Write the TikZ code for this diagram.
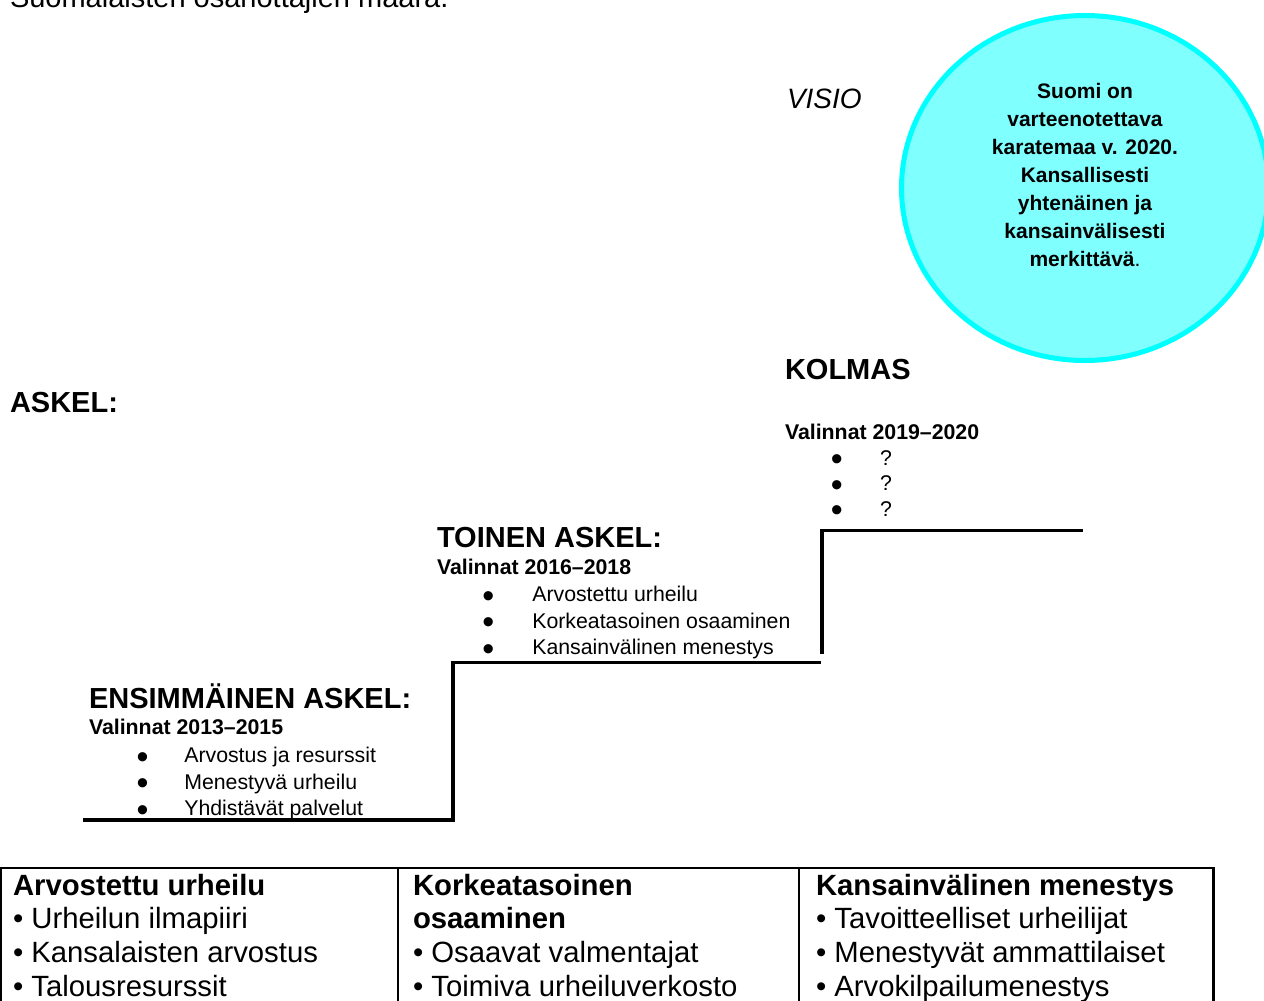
\documentclass[tikz,border=0pt]{standalone}
\usepackage{fontspec}
\setmainfont{Liberation Sans}
\usetikzlibrary{shapes.geometric}
\definecolor{visfill}{HTML}{80FFFF}
\definecolor{visline}{HTML}{00FFFF}
\begin{document}
\begin{tikzpicture}[x=1pt,y=-1pt,
  txt/.style={inner sep=0pt, outer sep=0pt, anchor=base west},
  bigbold/.style={txt, font=\fontsize{29}{34}\selectfont\bfseries},
  smallbold/.style={txt, font=\fontsize{21.3}{26}\selectfont\bfseries},
  item/.style={txt, font=\fontsize{21.3}{26}\selectfont},
  dot/.style={inner sep=0pt, outer sep=0pt, anchor=base, yshift=-5.8pt, font=\fontsize{34}{34}\selectfont},
  tabtxt/.style={txt, font=\fontsize{29.3}{33.7}\selectfont},
  stepline/.style={line width=3.2pt, black},
  tabline/.style={line width=2.4pt, black}]
\useasboundingbox (0,0) rectangle (1264,1001);

% heading
\node[txt, font=\fontsize{29}{34}\selectfont] (title) at (10,8) {Suomalaisten osanottajien määrä.};

% vision
\node[draw=visline, fill=visfill, line width=5pt, ellipse, minimum width=367pt, minimum height=345pt, inner sep=0pt] (vision) at (1085,188) {};
\node[inner sep=0pt, anchor=base, font=\fontsize{21}{28}\selectfont\bfseries] (vtext) at (1085,98.3)
  {\begin{tabular}[t]{@{}c@{}}Suomi on\\ varteenotettava\\ karatemaa v. 2020.\\ Kansallisesti\\ yhtenäinen ja\\ kansainvälisesti\\ merkittävä{\mdseries .}\end{tabular}};
\node[txt, font=\fontsize{28}{34}\selectfont\itshape] (visio) at (787,108.3) {VISIO};

% labels
\node[bigbold] (askel) at (10,412) {ASKEL:};
\node[bigbold] (kolmas) at (785,379) {KOLMAS};
\node[smallbold] (v3) at (785,439.5) {Valinnat 2019–2020};
\node[dot] (b31) at (836.7,465) {•};
\node[dot] (b32) at (836.7,490.5) {•};
\node[dot] (b33) at (836.7,516) {•};
\node[item] (i31) at (880,465) {?};
\node[item] (i32) at (880,490.5) {?};
\node[item] (i33) at (880,516) {?};

\node[bigbold] (toinen) at (437,547.5) {TOINEN ASKEL:};
\node[smallbold] (v2) at (437,574.3) {Valinnat 2016–2018};
\node[dot] (b21) at (488.3,601.7) {•};
\node[dot] (b22) at (488.3,628) {•};
\node[dot] (b23) at (488.3,654.3) {•};
\node[item] (i21) at (532.3,601.7) {Arvostettu urheilu};
\node[item] (i22) at (532.3,628) {Korkeatasoinen osaaminen};
\node[item] (i23) at (532.3,654.3) {Kansainvälinen menestys};

\node[bigbold] (ensim) at (89,708) {ENSIMMÄINEN ASKEL:};
\node[smallbold] (v1) at (89,734) {Valinnat 2013–2015};
\node[dot] (b11) at (142.7,762.7) {•};
\node[dot] (b12) at (142.7,789) {•};
\node[dot] (b13) at (142.7,815.3) {•};
\node[item] (i11) at (184.3,762.7) {Arvostus ja resurssit};
\node[item] (i12) at (184.3,789) {Menestyvä urheilu};
\node[item] (i13) at (184.3,815.3) {Yhdistävät palvelut};

% steps
\coordinate (s1a) at (83,820);
\coordinate (s1b) at (453,820);
\coordinate (s1c) at (453,662.5);
\coordinate (s1d) at (820.5,662.5);
\draw[stepline] (s1a) -- (s1b) -- (s1c) -- (s1d);
\coordinate (s2a) at (822,653.5);
\coordinate (s2b) at (822,530.5);
\coordinate (s2c) at (1083,530.5);
\draw[stepline] (s2a) -- (s2b) -- (s2c);

% table
\coordinate (t0) at (0,868);
\coordinate (t1) at (1214.5,868);
\coordinate (c0a) at (0.8,868); \coordinate (c0b) at (0.8,1010);
\coordinate (c1a) at (397.7,868); \coordinate (c1b) at (397.7,1010);
\coordinate (c2a) at (799,868); \coordinate (c2b) at (799,1010);
\coordinate (c3a) at (1213.3,868); \coordinate (c3b) at (1213.3,1010);
\draw[tabline] (t0) -- (t1);
\draw[tabline] (c0a) -- (c0b);
\draw[tabline] (c1a) -- (c1b);
\draw[tabline] (c2a) -- (c2b);
\draw[tabline] (c3a) -- (c3b);

\node[tabtxt] (col1) at (13,895) {\begin{tabular}[t]{@{}l@{}}\textbf{Arvostettu urheilu}\\ • Urheilun ilmapiiri\\ • Kansalaisten arvostus\\ • Talousresurssit\end{tabular}};
\node[tabtxt] (col2) at (413,895) {\begin{tabular}[t]{@{}l@{}}\textbf{Korkeatasoinen}\\ \textbf{osaaminen}\\ • Osaavat valmentajat\\ • Toimiva urheiluverkosto\end{tabular}};
\node[tabtxt] (col3) at (816,895) {\begin{tabular}[t]{@{}l@{}}\textbf{Kansainvälinen menestys}\\ • Tavoitteelliset urheilijat\\ • Menestyvät ammattilaiset\\ • Arvokilpailumenestys\end{tabular}};
\end{tikzpicture}
\end{document}
